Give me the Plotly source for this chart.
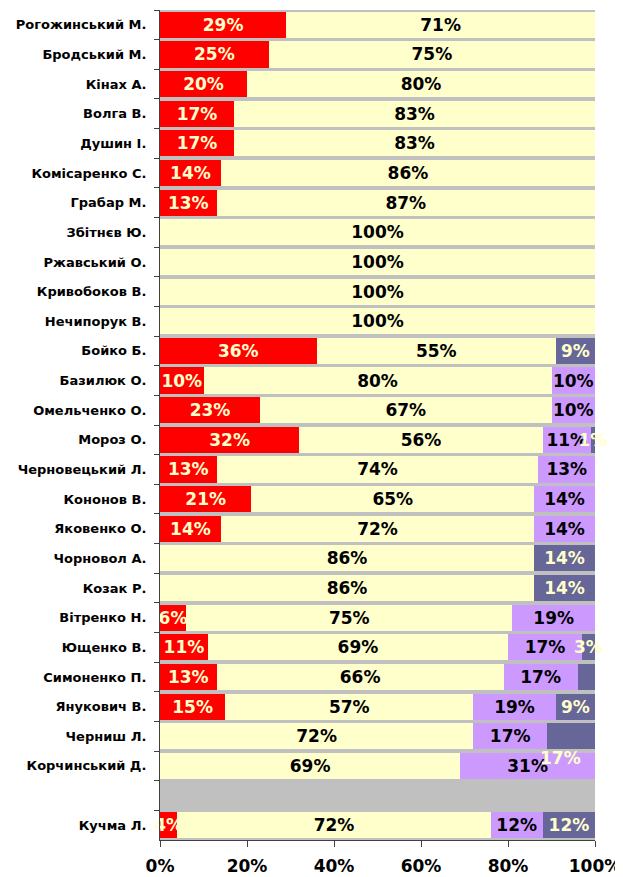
import plotly.graph_objects as go

candidates = [
    "Рогожинський М.", "Бродський М.", "Кінах А.", "Волга В.", "Душин І.",
    "Комісаренко С.", "Грабар М.", "Збітнєв Ю.", "Ржавський О.", "Кривобоков В.",
    "Нечипорук В.", "Бойко Б.", "Базилюк О.", "Омельченко О.", "Мороз О.",
    "Черновецький Л.", "Кононов В.", "Яковенко О.", "Чорновол А.", "Козак Р.",
    "Вітренко Н.", "Ющенко В.", "Симоненко П.", "Янукович В.", "Черниш Л.",
    "Корчинський Д.", " ", "Кучма Л.",
]

red_values = [29, 25, 20, 17, 17, 14, 13, 0, 0, 0, 0, 36, 10, 23, 32, 13, 21, 14,
              0, 0, 6, 11, 13, 15, 0, 0, 0, 4]
yellow_values = [71, 75, 80, 83, 83, 86, 87, 100, 100, 100, 100, 55, 80, 67, 56, 74,
                 65, 72, 86, 86, 75, 69, 66, 57, 72, 69, 0, 72]
purple_values = [0, 0, 0, 0, 0, 0, 0, 0, 0, 0, 0, 0, 10, 10, 11, 13, 14, 14,
                 0, 0, 19, 17, 17, 19, 17, 31, 0, 12]
dark_values = [0, 0, 0, 0, 0, 0, 0, 0, 0, 0, 0, 9, 0, 0, 1, 0, 0, 0,
               14, 14, 0, 3, 4, 9, 11, 0, 0, 12]

# dark-segment labels that the original chart does not show in place
hidden_dark_labels = ["Симоненко П.", "Черниш Л."]
stray_label_text = "17%"
stray_label_x = 92
stray_label_row = "Корчинський Д."

x_ticks = [0, 20, 40, 60, 80, 100]

FONT = "DejaVu Sans"
CREAM = "#FFFFCC"
LABEL_SIZE = 17


def labels(values, hidden=()):
    return [f"{v}%" if v > 0 and c not in hidden else "" for v, c in zip(values, candidates)]


series = [
    ("red", red_values, "#FF0000", CREAM, ()),
    ("yellow", yellow_values, "#FFFFCC", "#000000", ()),
    ("purple", purple_values, "#CC99FF", "#000000", ()),
    ("dark", dark_values, "#666699", CREAM, hidden_dark_labels),
]

fig = go.Figure()
for name, vals, color, tcolor, hidden in series:
    fig.add_trace(go.Bar(
        y=candidates, x=vals, name=name, orientation="h",
        marker=dict(color=color, line=dict(width=0)),
        text=labels(vals, hidden), textposition="inside",
        insidetextanchor="middle", textangle=0,
        textfont=dict(family=FONT, size=LABEL_SIZE, color=tcolor, weight="bold"),
        cliponaxis=False, hoverinfo="skip",
    ))

fig.add_annotation(
    x=stray_label_x, y=stray_label_row, xref="x", yref="y",
    text=stray_label_text, showarrow=False, yshift=8,
    font=dict(family=FONT, size=LABEL_SIZE, color=CREAM, weight="bold"),
)

# the page body adds an 8px offset, so the figure is sized to the remaining window
fig.update_layout(
    width=615, height=869,
    margin=dict(l=152, r=28, t=2, b=37),
    barmode="stack", bargap=0.12,
    showlegend=False,
    paper_bgcolor="white", plot_bgcolor="#C0C0C0",
    uniformtext=dict(minsize=LABEL_SIZE, mode="show"),
)
fig.update_xaxes(
    range=[0, 100], tickvals=x_ticks, ticktext=[f"{t}%" for t in x_ticks],
    automargin=False,
    showgrid=False, zeroline=False,
    showline=True, linecolor="#404040", linewidth=1,
    ticks="outside", ticklen=6, tickcolor="#404040",
    ticklabelstandoff=5,
    tickfont=dict(family=FONT, size=17, color="black", weight="bold"),
)
fig.update_yaxes(
    categoryorder="array", categoryarray=candidates, autorange="reversed",
    automargin=False,
    showgrid=False, zeroline=False,
    showline=True, linecolor="#404040", linewidth=1,
    ticks="outside", ticklen=5, tickcolor="#404040", tickson="boundaries",
    ticklabelstandoff=10,
    tickfont=dict(family=FONT, size=13, color="black", weight="bold"),
)

fig.write_html("out.html")
